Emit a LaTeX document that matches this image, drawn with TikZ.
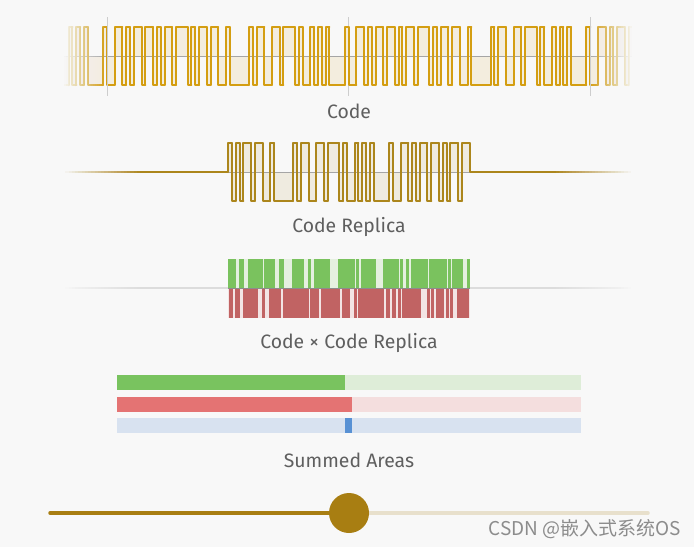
\documentclass[tikz,border=0pt]{standalone}
\usepackage{fontspec}
\setmainfont{Fira Sans}
\newfontfamily\cjkfont{Noto Sans CJK SC}
\definecolor{bg}{RGB}{248,248,248}
\definecolor{codegold}{RGB}{212,158,18}
\definecolor{codefill}{RGB}{243,237,222}
\definecolor{repgold}{RGB}{172,134,28}
\definecolor{repfill}{RGB}{239,235,224}
\definecolor{basegray}{RGB}{165,165,165}
\definecolor{gridgray}{RGB}{205,205,205}
\definecolor{pgreen}{RGB}{122,194,94}
\definecolor{pred}{RGB}{193,99,99}
\definecolor{lgreen}{RGB}{229,240,224}
\definecolor{lred}{RGB}{243,228,228}
\definecolor{prodbase}{RGB}{220,220,220}
\definecolor{bargreen}{RGB}{121,195,95}
\definecolor{barlgreen}{RGB}{222,237,216}
\definecolor{barred}{RGB}{228,115,115}
\definecolor{barlred}{RGB}{244,222,222}
\definecolor{barblue}{RGB}{88,145,212}
\definecolor{barlblue}{RGB}{216,226,240}
\definecolor{slidergold}{RGB}{168,126,18}
\definecolor{sliderpale}{RGB}{232,224,204}
\definecolor{labelgray}{RGB}{95,95,95}
\definecolor{marktext}{RGB}{140,140,140}
\foreach \v [count=\i from 0] in {1,0,1,0,1,1,0,1,1,0,0,1,0,0,0,0,0,1,0,1,1,0,0,1,1,0,1,1,1,0,1,0,0,1,0,1,0,1,0,0,0,0,1,0,0,1,1,0,1,0,1,1,0,1,1,0,1,0,1,1,0,1,1}{\expandafter\xdef\csname sq\i\endcsname{\v}}
\newcommand\sqval[1]{\csname sq#1\endcsname}
\newcommand\fadeL[4]{% x0 x1 y0 y1 : fully bg at x0, clear at x1
  \foreach \i in {1,...,24}{%
    \pgfmathsetmacro\op{1/(25-\i)}%
    \pgfmathsetmacro\xe{#2-(\i-1)*(#2-#1)/24}%
    \fill[bg,opacity=\op] ({#1-10},#3) rectangle (\xe,#4);}}
\newcommand\fadeR[4]{% x0 x1 y0 y1 : clear at x0, fully bg at x1
  \foreach \i in {1,...,24}{%
    \pgfmathsetmacro\op{1/(25-\i)}%
    \pgfmathsetmacro\xs{#1+(\i-1)*(#2-#1)/24}%
    \fill[bg,opacity=\op] (\xs,#3) rectangle ({#2+10},#4);}}
\tikzset{
  codeline/.style={codegold,line width=2.0,line cap=round,line join=round},
  repline/.style={repgold,line width=2.0,line cap=round,line join=round},
  lbl/.style={font=\fontsize{19.4}{22}\selectfont,text=labelgray,inner sep=0pt},
  track/.style={line width=3.5,line cap=round},
}
\begin{document}
\begin{tikzpicture}[x=1pt,y=-1pt]
\useasboundingbox (0,0) rectangle (694,547);
\fill[bg] (0,0) rectangle (694,547);
% ---------------- Code ----------------
\foreach \j in {-32,...,117}{
  \pgfmathtruncatemacro\k{mod(\j+126,63)}
  \pgfmathsetmacro\xa{183.7+3.836*\j}
  \pgfmathsetmacro\xb{\xa+4.0}
  \ifnum\sqval{\k}=1 \def\yy{27}\else\def\yy{85}\fi
  \fill[codefill] (\xa,56) rectangle (\xb,\yy);
}
\foreach \gx in {107,348.5,590.5}{\draw[gridgray,line width=1] (\gx,17) -- (\gx,96);}
\draw[basegray,line width=0.8] (62,56) -- (636,56);
\foreach \j in {-32,...,117}{
  \pgfmathtruncatemacro\k{mod(\j+126,63)}
  \pgfmathtruncatemacro\kp{mod(\j+125,63)}
  \pgfmathsetmacro\xa{183.7+3.836*\j}
  \pgfmathsetmacro\xb{\xa+3.836}
  \ifnum\sqval{\k}=1 \def\yy{27}\else\def\yy{85}\fi
  \ifnum\sqval{\kp}=1 \def\yp{27}\else\def\yp{85}\fi
  \draw[codeline] (\xa,\yp) -- (\xa,\yy) -- (\xb,\yy);
}
\fadeL{62}{106}{12}{100}
\fadeR{590}{634}{12}{100}
\foreach \gx in {107,590.5}{\draw[gridgray,line width=1] (\gx,17) -- (\gx,96);}
\node[lbl] (lcode) at (349,111) {Code};
% ---------------- Code Replica ----------------
\foreach \k in {0,...,62}{
  \pgfmathsetmacro\xa{228+3.836*\k}
  \pgfmathsetmacro\xb{\xa+4.0}
  \ifnum\sqval{\k}=1 \def\yy{143}\else\def\yy{201}\fi
  \fill[repfill] (\xa,172) rectangle (\xb,\yy);
}
\draw[basegray,line width=0.8] (228,172) -- (469.7,172);
\draw[repline] (64,172) -- (228,172);
\foreach \k in {0,...,62}{
  \pgfmathtruncatemacro\kp{\k-1}
  \pgfmathsetmacro\xa{228+3.836*\k}
  \pgfmathsetmacro\xb{\xa+3.836}
  \ifnum\sqval{\k}=1 \def\yy{143}\else\def\yy{201}\fi
  \ifnum\k=0 \def\yp{172}\else\ifnum\sqval{\kp}=1 \def\yp{143}\else\def\yp{201}\fi\fi
  \draw[repline] (\xa,\yp) -- (\xa,\yy) -- (\xb,\yy);
}
\draw[repline] (469.7,143) -- (469.7,172) -- (634,172);
\fadeL{62}{140}{162}{182}
\fadeR{556}{634}{162}{182}
\node[lbl] (lrep) at (349,227) {Code Replica};
% ---------------- Product ----------------
\draw[prodbase,line width=2.8] (62,288) -- (634,288);
\fill[lgreen] (228,258.5) rectangle (469.7,288);
\fill[lred] (228,288) rectangle (469.7,317.5);
\foreach \h in {0,...,125}{
  \pgfmathtruncatemacro\k{\h/2}
  \pgfmathtruncatemacro\cj{mod(int((\h+23)/2),63)}
  \pgfmathsetmacro\xa{max(228,228+1.918*\h-0.8)}
  \pgfmathsetmacro\xb{min(469.7,228+1.918*\h+2.7)}
  \ifnum\sqval{\k}=\sqval{\cj}\relax
    \fill[pgreen] (\xa,258.5) rectangle (\xb,288);
  \else
    \fill[pred] (\xa,288) rectangle (\xb,317.5);
  \fi
}
\draw[basegray!85!black,line width=0.9] (228,288) -- (469.7,288);
\fadeL{62}{140}{283}{293}
\fadeR{556}{634}{283}{293}
\node[lbl] (lprod) at (349,343) {Code × Code Replica};
% ---------------- Summed areas ----------------
\fill[barlgreen] (117,375) rectangle (581,390);
\fill[bargreen] (117,375) rectangle (345,390);
\fill[barlred] (117,397) rectangle (581,412);
\fill[barred] (117,397) rectangle (352,412);
\fill[barlblue] (117,418) rectangle (581,433);
\fill[barblue] (345,418) rectangle (352,433);
\node[lbl] (lsum) at (349,460) {Summed Areas};
% ---------------- Slider ----------------
\coordinate (sl) at (50,513);
\coordinate (sr) at (648,513);
\coordinate (kc) at (349,513);
\draw[track,sliderpale] (kc) -- (sr);
\draw[track,slidergold] (sl) -- (kc);
\node[circle,fill=slidergold,minimum size=40,inner sep=0] (knob) at (kc) {};
% ---------------- Watermark ----------------
\node[anchor=base east,inner sep=0,text=marktext,font=\cjkfont\fontsize{19}{22}\selectfont] (wm) at (681,535) {CSDN @嵌入式系统OS};
\end{tikzpicture}
\end{document}
